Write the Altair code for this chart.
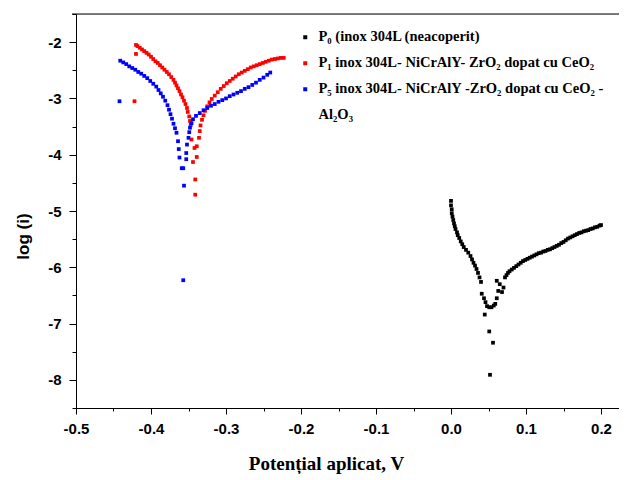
import altair as alt
import pandas as pd

# ---- data ----
labels = [
    "P\u2080 (inox 304L (neacoperit)",
    "P\u2081 inox 304L- NiCrAlY- ZrO\u2082 dopat cu CeO\u2082",
    "P\u2085 inox 304L- NiCrAlY -ZrO\u2082 dopat cu CeO\u2082 -",
    "Al\u2082O\u2083",
]
colors = ["#000000", "#ff0000", "#0000ff", "rgba(0,0,0,0)"]

p0_x = [0.000, 0.000, 0.001, 0.001, 0.002, 0.003, 0.004, 0.005, 0.006, 0.008,
        0.009, 0.011, 0.013, 0.015, 0.017, 0.020, 0.023, 0.026, 0.028, 0.030,
        0.032, 0.034, 0.036, 0.038, 0.040, 0.041, 0.044, 0.046, 0.048, 0.051,
        0.054, 0.057, 0.059, 0.061, 0.063, 0.061, 0.065, 0.068, 0.070,
        0.045, 0.051, 0.056, 0.052,
        0.072, 0.074, 0.076, 0.078, 0.081, 0.084, 0.087, 0.090, 0.093, 0.096,
        0.099, 0.102, 0.105, 0.108, 0.111, 0.114, 0.117, 0.120, 0.123, 0.126,
        0.129, 0.132, 0.135, 0.138, 0.141, 0.144, 0.147, 0.150, 0.153, 0.156,
        0.159, 0.162, 0.165, 0.168, 0.171, 0.174, 0.177, 0.180, 0.183, 0.186,
        0.189, 0.192, 0.195, 0.198, 0.200]
p0_y = [-4.82, -4.90, -4.97, -5.04, -5.10, -5.16, -5.22, -5.27, -5.32, -5.38,
        -5.43, -5.48, -5.54, -5.59, -5.64, -5.69, -5.74, -5.80, -5.86, -5.92,
        -5.97, -6.03, -6.10, -6.18, -6.26, -6.47, -6.55, -6.62, -6.69, -6.71,
        -6.71, -6.68, -6.65, -6.55, -6.42, -6.24, -6.30, -6.44, -6.36,
        -6.84, -7.14, -7.34, -7.91,
        -6.18, -6.14, -6.10, -6.07, -6.04, -6.01, -5.98, -5.95, -5.92, -5.89,
        -5.87, -5.85, -5.83, -5.81, -5.79, -5.77, -5.75, -5.74, -5.72, -5.71,
        -5.69, -5.68, -5.66, -5.64, -5.62, -5.60, -5.57, -5.55, -5.52, -5.49,
        -5.47, -5.45, -5.43, -5.41, -5.39, -5.38, -5.36, -5.35, -5.34, -5.32,
        -5.31, -5.29, -5.28, -5.26, -5.25]

p1_x = [-0.420, -0.418, -0.415, -0.412, -0.409, -0.406, -0.403, -0.400, -0.397, -0.394,
        -0.391, -0.388, -0.385, -0.382, -0.379, -0.376, -0.373, -0.370, -0.368, -0.366,
        -0.364, -0.362, -0.360, -0.358, -0.356, -0.354, -0.352, -0.351, -0.349, -0.348,
        -0.347,
        -0.420, -0.422,
        -0.346, -0.342, -0.339, -0.344, -0.341, -0.341, -0.339,
        -0.336, -0.335, -0.334, -0.332, -0.330, -0.328, -0.325, -0.322, -0.319, -0.315,
        -0.311, -0.307, -0.303, -0.299, -0.295, -0.291, -0.287, -0.283, -0.279, -0.275,
        -0.271, -0.267, -0.263, -0.259, -0.255, -0.251, -0.247, -0.243, -0.239, -0.235,
        -0.231, -0.227, -0.223]
p1_y = [-2.05, -2.07, -2.10, -2.13, -2.16, -2.19, -2.22, -2.26, -2.30, -2.34,
        -2.37, -2.41, -2.45, -2.49, -2.53, -2.57, -2.62, -2.67, -2.72, -2.77,
        -2.82, -2.87, -2.93, -2.98, -3.04, -3.10, -3.17, -3.24, -3.32, -3.40,
        -3.47,
        -2.21, -3.05,
        -3.73, -3.88, -4.04, -4.13, -4.44, -4.71, -3.85,
        -3.70, -3.58, -3.48, -3.38, -3.30, -3.22, -3.14, -3.07, -3.01, -2.95,
        -2.89, -2.83, -2.78, -2.73, -2.69, -2.65, -2.61, -2.57, -2.54, -2.51,
        -2.48, -2.45, -2.43, -2.41, -2.39, -2.37, -2.35, -2.33, -2.31, -2.30,
        -2.29, -2.28, -2.28]

p5_x = [-0.441, -0.437, -0.433, -0.429, -0.425, -0.421, -0.417, -0.413, -0.409, -0.405,
        -0.401, -0.397, -0.393, -0.390, -0.387, -0.384, -0.381, -0.378, -0.376, -0.374,
        -0.372, -0.370, -0.368, -0.366, -0.364, -0.363, -0.362, -0.359, -0.357, -0.356,
        -0.357,
        -0.442,
        -0.353, -0.353, -0.352, -0.350, -0.349, -0.348, -0.346, -0.344, -0.340, -0.335,
        -0.330, -0.325, -0.320, -0.315, -0.310, -0.305, -0.300, -0.295, -0.290, -0.285,
        -0.280, -0.275, -0.270, -0.265, -0.260, -0.255, -0.250, -0.245, -0.241]
p5_y = [-2.33, -2.36, -2.39, -2.43, -2.46, -2.49, -2.53, -2.56, -2.60, -2.64,
        -2.69, -2.74, -2.79, -2.85, -2.91, -2.97, -3.04, -3.12, -3.20, -3.28,
        -3.36, -3.45, -3.53, -3.61, -3.76, -3.90, -4.05, -4.24, -4.24, -4.55,
        -6.23,
        -3.05,
        -4.08, -3.97, -3.82, -3.70, -3.60, -3.52, -3.44, -3.37, -3.31, -3.26,
        -3.21, -3.17, -3.13, -3.10, -3.06, -3.03, -3.00, -2.96, -2.93, -2.90,
        -2.87, -2.83, -2.80, -2.76, -2.72, -2.67, -2.63, -2.58, -2.54]

x_ticks = [-0.5, -0.45, -0.4, -0.35, -0.3, -0.25, -0.2, -0.15, -0.1, -0.05,
           0.0, 0.05, 0.1, 0.15, 0.2]
y_ticks = [-8.5, -8, -7.5, -7, -6.5, -6, -5.5, -5, -4.5, -4, -3.5, -3, -2.5, -2, -1.5]

df = pd.concat([
    pd.DataFrame({"x": p0_x, "y": p0_y, "s": labels[0]}),
    pd.DataFrame({"x": p1_x, "y": p1_y, "s": labels[1]}),
    pd.DataFrame({"x": p5_x, "y": p5_y, "s": labels[2]}),
], ignore_index=True)

W, H = 543, 394
sans = "Liberation Sans"
serif = "Liberation Serif"

major_x = "abs(round(datum.value*20)) % 2 == 0"
major_y = "abs(round(datum.value*2)) % 2 == 0"
lab_x = (f"{major_x} ? ((datum.value < 0 ? '-' : '') + format(abs(datum.value), '.1f')) : ''")
lab_y = (f"{major_y} ? ((datum.value < 0 ? '-' : '') + format(abs(datum.value), 'd')) : ''")

points = alt.Chart(df).mark_square(size=14, opacity=1).encode(
    x=alt.X("x:Q",
            scale=alt.Scale(domain=[-0.5, -0.5 + W / 750], nice=False, zero=False),
            axis=alt.Axis(values=x_ticks, grid=False,
                          labelExpr=lab_x,
                          tickSize={"condition": {"test": major_x, "value": 6}, "value": 3},
                          tickColor="#000", domainColor="#000", tickWidth=1, domainWidth=1,
                          labelFont=sans, labelFontWeight="bold", labelFontSize=15,
                          labelColor="#000", labelPadding=7, labelFlush=False,
                          labelOverlap=False,
                          title="Poten\u021bial aplicat, V",
                          titleFont=serif, titleFontWeight="bold", titleFontSize=19,
                          titleColor="#000", titleX=250, titleY=55,
                          titleBaseline="middle", titleAlign="center")),
    y=alt.Y("y:Q",
            scale=alt.Scale(domain=[-8.5, -1.5], nice=False, zero=False),
            axis=alt.Axis(values=y_ticks, grid=False,
                          labelExpr=lab_y,
                          tickSize={"condition": {"test": major_y, "value": 7}, "value": 4},
                          tickColor="#000", domainColor="#000", tickWidth=1, domainWidth=1,
                          labelFont=sans, labelFontWeight="bold", labelFontSize=15,
                          labelColor="#000", labelPadding=8, labelFlush=False,
                          labelOverlap=False,
                          title="log (i)",
                          titleFont=sans, titleFontWeight="bold", titleFontSize=17,
                          titleColor="#000", titleX=-53, titleY=222, titleAngle=270,
                          titleBaseline="middle", titleAlign="center")),
    color=alt.Color("s:N",
                    scale=alt.Scale(domain=labels, range=colors),
                    legend=alt.Legend(title=None, orient="none", legendX=222, legendY=16,
                                      symbolType="square", symbolSize=16,
                                      symbolStrokeWidth=0, labelFont=serif,
                                      labelFontWeight="bold", labelFontSize=14.5,
                                      labelColor="#000", labelOffset=6,
                                      rowPadding=11, labelLimit=400, padding=0)),
)

top_line = alt.Chart(pd.DataFrame({"k": [0]})).mark_rule(color="#000", strokeWidth=1).encode(
    x=alt.value(-4), x2=alt.value(W), y=alt.value(0)
)

chart = alt.layer(points, top_line).properties(
    width=W, height=H,
    autosize=alt.AutoSizeParams(type="none"),
    padding={"left": 68, "top": 6, "right": 0, "bottom": 66},
).configure_view(stroke=None).configure(background="white")

chart.save("out.html", embed_options={"renderer": "svg", "actions": False})
